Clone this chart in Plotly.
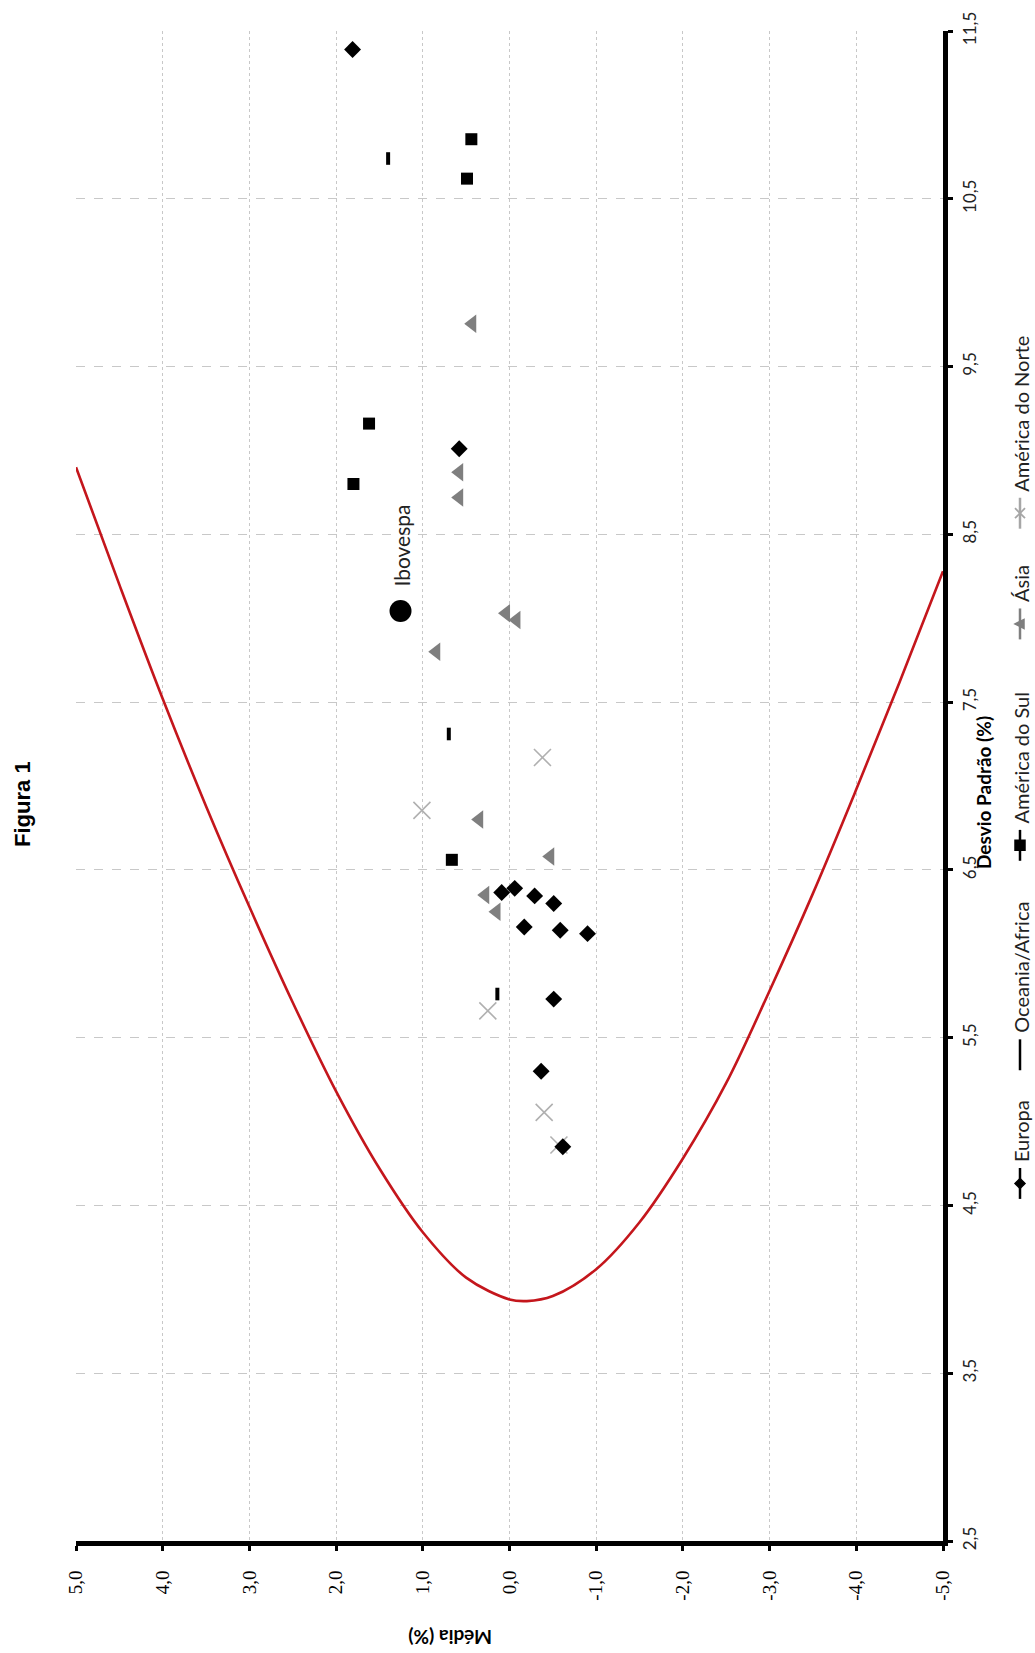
import plotly.graph_objects as go

# ---------------- data ----------------
media_ticks = [5, 4, 3, 2, 1, 0, -1, -2, -3, -4, -5]
media_tick_labels = ["5,0", "4,0", "3,0", "2,0", "1,0", "0,0", "-1,0", "-2,0", "-3,0", "-4,0", "-5,0"]
desvio_ticks = [2.5, 3.5, 4.5, 5.5, 6.5, 7.5, 8.5, 9.5, 10.5, 11.5]
desvio_tick_labels = ["2,5", "3,5", "4,5", "5,5", "6,5", "7,5", "8,5", "9,5", "10,5", "11,5"]

europa_media = [1.81, 0.58, 0.09, -0.06, -0.29, -0.51, -0.17, -0.585, -0.90, -0.51, -0.365, -0.615]
europa_desvio = [11.39, 9.01, 6.365, 6.39, 6.345, 6.30, 6.16, 6.14, 6.12, 5.73, 5.30, 4.85]

oceania_media = [1.40, 0.70, 0.14]
oceania_desvio = [10.74, 7.31, 5.76]

sul_media = [0.44, 0.49, 1.62, 1.80, 0.665]
sul_desvio = [10.855, 10.62, 9.16, 8.80, 6.56]

asia_media = [0.43, 0.58, 0.58, 0.04, -0.08, 0.845, 0.35, -0.47, 0.28, 0.15]
asia_desvio = [9.755, 8.87, 8.72, 8.03, 7.99, 7.80, 6.80, 6.58, 6.35, 6.25]

norte_media = [-0.38, 1.01, 0.25, -0.40, -0.57]
norte_desvio = [7.17, 6.855, 5.66, 5.055, 4.86]

ibovespa_media = [1.257]
ibovespa_desvio = [8.043]

fronteira_media = [5.0, 4.5, 4.0, 3.5, 3.0, 2.5, 2.0, 1.5, 1.0, 0.5, 0.0, -0.2,
                   -0.5, -1.0, -1.5, -2.0, -2.5, -3.0, -3.5, -4.0, -4.5, -5.0]
fronteira_desvio = [8.90, 8.20, 7.52, 6.88, 6.28, 5.71, 5.18, 4.72, 4.34, 4.07, 3.94, 3.93,
                    3.96, 4.12, 4.40, 4.78, 5.23, 5.78, 6.36, 6.98, 7.62, 8.28]

legend_names = ["Europa", "Oceania/Africa", "América do Sul", "Ásia", "América do Norte"]

# ---------------- layout geometry ----------------
W, H = 1035, 1653
L, R, T, B = 76, 943, 27, 1541   # plot area in pixels

def px(xp):
    return (xp - L) / (R - L)

def py(yp):
    return (B - yp) / (B - T)

FONT = "Lato"
fig = go.Figure()

fig.add_trace(go.Scatter(x=fronteira_media, y=fronteira_desvio, mode="lines",
                         line=dict(color="#C4161C", width=2.6, shape="spline", smoothing=1.0),
                         showlegend=False, hoverinfo="skip"))
fig.add_trace(go.Scatter(x=norte_media, y=norte_desvio, mode="markers",
                         marker=dict(symbol="x-thin-open", size=17, color="#b0b0b0",
                                     line=dict(color="#b0b0b0", width=1.6)),
                         showlegend=False))
fig.add_trace(go.Scatter(x=asia_media, y=asia_desvio, mode="markers",
                         marker=dict(symbol="triangle-left", size=16, color="#7f7f7f"),
                         showlegend=False))
fig.add_trace(go.Scatter(x=sul_media, y=sul_desvio, mode="markers",
                         marker=dict(symbol="square", size=12, color="black"),
                         showlegend=False))
fig.add_trace(go.Scatter(x=oceania_media, y=oceania_desvio, mode="markers",
                         marker=dict(symbol="line-ns-open", size=9, color="black",
                                     line=dict(color="black", width=4)),
                         showlegend=False))
fig.add_trace(go.Scatter(x=europa_media, y=europa_desvio, mode="markers",
                         marker=dict(symbol="diamond", size=13, color="black"),
                         showlegend=False))
fig.add_trace(go.Scatter(x=ibovespa_media, y=ibovespa_desvio, mode="markers",
                         marker=dict(symbol="circle", size=22, color="black"),
                         showlegend=False))

# ---------------- manual (rotated) legend ----------------
leg_x = 1020
glyph_paths = {
    "diamond": "M 0 5 L 5 0 L 0 -5 L -5 0 Z",
    "square": "M -5 -5 L 5 -5 L 5 5 L -5 5 Z",
    "triangle": "M -5 0 L 4 4.5 L 4 -4.5 Z",
    "x": "M -5 -5 L 5 5 M -5 5 L 5 -5",
}
leg_items = [
    # name, line top, line bottom, colour, glyph
    (legend_names[0], 1167, 1198, "black", "diamond"),
    (legend_names[1], 1038, 1069, "black", None),
    (legend_names[2], 828, 859, "black", "square"),
    (legend_names[3], 606, 637, "#7f7f7f", "triangle"),
    (legend_names[4], 495, 526, "#a6a6a6", "x"),
]
shapes = []
annotations = []
for name, top, bot, col, glyph in leg_items:
    shapes.append(dict(type="line", xref="paper", yref="paper",
                       x0=px(leg_x), x1=px(leg_x), y0=py(top), y1=py(bot),
                       line=dict(color=col, width=2.5)))
    annotations.append(dict(text=name, xref="paper", yref="paper",
                            x=px(leg_x + 1), y=py(top - 4), xanchor="center", yanchor="bottom",
                            textangle=-90, showarrow=False,
                            font=dict(family=FONT, size=20, color="#222222")))
    if glyph:
        closed = glyph != "x"
        shapes.append(dict(type="path", xref="paper", yref="paper",
                           xsizemode="pixel", ysizemode="pixel",
                           xanchor=px(leg_x), yanchor=py((top + bot) / 2),
                           path=glyph_paths[glyph],
                           fillcolor=col if closed else None,
                           line=dict(color=col, width=1.5 if closed else 1.8)))

# titles
annotations.append(dict(text="<b>Figura 1</b>", xref="paper", yref="paper",
                        x=px(23), y=py(802), textangle=-90, showarrow=False,
                        xanchor="center", yanchor="middle",
                        font=dict(family="Liberation Sans", size=22, color="black")))
annotations.append(dict(text="<b>Desvio Padrão (%)</b>", xref="paper", yref="paper",
                        x=px(984), y=py(790), textangle=-90, showarrow=False,
                        xanchor="center", yanchor="middle",
                        font=dict(family=FONT, size=19, color="black")))
annotations.append(dict(text="<b>Média (%)</b>", xref="paper", yref="paper",
                        x=px(450), y=py(1638), textangle=180, showarrow=False,
                        xanchor="center", yanchor="middle",
                        font=dict(family=FONT, size=19, color="black")))
annotations.append(dict(text="Ibovespa", x=ibovespa_media[0], y=ibovespa_desvio[0],
                        xref="x", yref="y", textangle=-90, showarrow=False,
                        xanchor="center", yanchor="bottom", yshift=22,
                        font=dict(family=FONT, size=21, color="#222222")))

fig.update_layout(
    width=W, height=H,
    margin=dict(l=L, r=W - R, t=T, b=H - B, pad=0),
    paper_bgcolor="white", plot_bgcolor="white",
    showlegend=False,
    shapes=shapes, annotations=annotations,
    xaxis=dict(range=[5, -5], tickvals=media_ticks, ticktext=media_tick_labels,
               tickangle=-90, ticks="outside", ticklen=5, tickwidth=3, tickcolor="black",
               showline=True, linewidth=5, linecolor="black", zeroline=False,
               showgrid=True, gridcolor="#c8c8c8", gridwidth=1, griddash="dot",
               ticklabelstandoff=12,
               tickfont=dict(family="Liberation Serif", size=19, color="black")),
    yaxis=dict(range=[2.5, 11.5], tickvals=desvio_ticks, ticktext=desvio_tick_labels,
               side="right", tickangle=-90, ticks="outside", ticklen=5, tickwidth=3,
               tickcolor="black", showline=True, linewidth=5, linecolor="black",
               zeroline=False, showgrid=True, gridcolor="#c8c8c8", gridwidth=1,
               griddash="dash", ticklabelstandoff=3,
               tickfont=dict(family=FONT, size=17, color="#222222")),
)

fig.write_html("out.html", config={"displayModeBar": False},
               post_script="document.body.style.margin='0';document.body.style.overflow='hidden';")
